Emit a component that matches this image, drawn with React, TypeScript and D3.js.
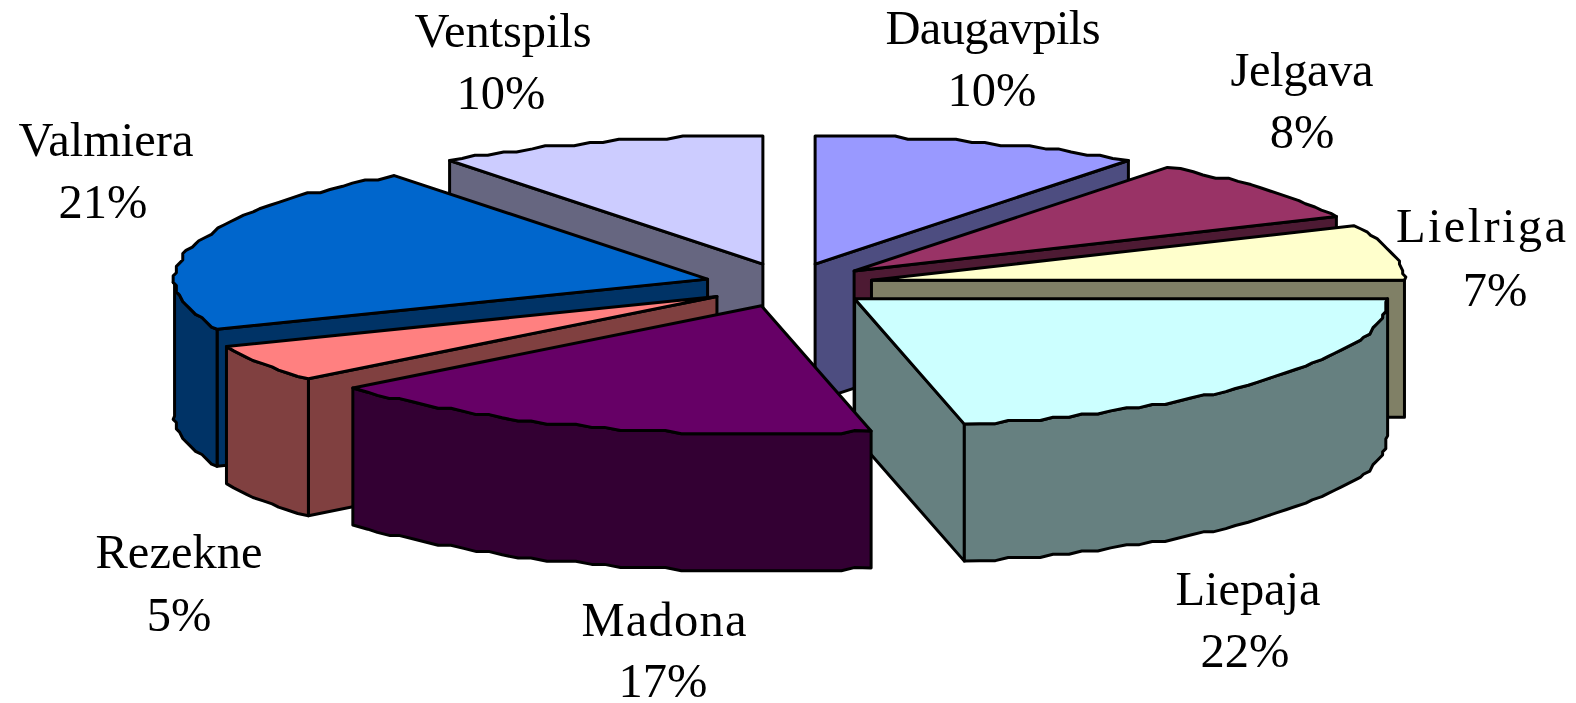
import React from "react";
import * as d3 from "d3";

const cities = ["Daugavpils", "Jelgava", "Lielriga", "Liepaja", "Madona", "Rezekne", "Valmiera", "Ventspils"];
const shares = [10, 8, 7, 21.7, 17.2, 4.7, 21.4, 10];
const fills = ["#9999FF", "#993366", "#FFFFCC", "#CCFFFF", "#660066", "#FF8080", "#0066CC", "#CCCCFF"];

// label layout, in the order of `cities`
const nameX = [993, 1302, 1481, 1248, 664, 179, 106, 503];
const nameY = [44, 86, 242, 605, 636, 568, 156, 47];
const nameW = [215, 143, 170, 145, 165, 167, 175, 177];
const pctX = [992, 1302, 1495, 1245, 663, 179, 103, 501];
const pctY = [106, 148, 306, 667, 697, 631, 218, 109];

const W = 1576, H = 703;
const CX = 789, CY = 285, RX = 533, RY = 128, DEPTH = 137, EX = 84.5, EY = 22;
const GRID = 3.2, STEP = (1.7 * Math.PI) / 180;
const FONT = 48.5;

const sx = d3.scaleLinear().domain([-1, 1]).range([-RX, RX]);
const sy = d3.scaleLinear().domain([-1, 1]).range([-RY, RY]);
const line = d3.line<[number, number]>();
const snap = (v: number) => Math.round(v / GRID) * GRID;

function half(c: string) {
  const k = d3.rgb(c);
  return d3.rgb(k.r / 2, k.g / 2, k.b / 2).formatHex();
}

function rimAngles(a0: number, a1: number) {
  const inner = d3.range(a0 + STEP, a1 - STEP / 2, STEP);
  return [a0, ...inner, a1];
}

export default function App() {
  const arcs = d3.pie<number>().sort(null).startAngle(0).endAngle(2 * Math.PI)(shares);
  const total = d3.sum(shares);
  const slices = arcs.map((a, i) => {
    const mid = (a.startAngle + a.endAngle) / 2;
    const ox = CX + EX * Math.sin(mid);
    const oy = CY - EY * Math.cos(mid);
    const pt = (t: number, dz = 0, jag = false): [number, number] => {
      const x = sx(Math.sin(t));
      const y = sy(-Math.cos(t));
      return [ox + (jag ? snap(x) : x), oy + (jag ? snap(y) : y) + dz];
    };
    const rim = (t0: number, t1: number, dz = 0) =>
      rimAngles(t0, t1).map((t, j, all) => pt(t, dz, j > 0 && j < all.length - 1));
    const apex: [number, number] = [ox, oy];
    const apexLow: [number, number] = [ox, oy + DEPTH];
    const faces: { d: string; fill: string }[] = [];
    const side = half(fills[i]);
    const radial = (t: number) => ({
      d: line([apex, pt(t), pt(t, DEPTH), apexLow])! + "Z",
      fill: side,
    });
    if (a.startAngle > Math.PI) faces.push(radial(a.startAngle));
    if (a.endAngle < Math.PI) faces.push(radial(a.endAngle));
    const w0 = Math.max(a.startAngle, Math.PI / 2);
    const w1 = Math.min(a.endAngle, (3 * Math.PI) / 2);
    if (w1 > w0) {
      faces.push({
        d: line([...rim(w0, w1), ...rim(w0, w1, DEPTH).reverse()])! + "Z",
        fill: side,
      });
    }
    faces.push({ d: line([apex, ...rim(a.startAngle, a.endAngle)])! + "Z", fill: fills[i] });
    return { i, mid, faces };
  });
  const order = [...slices].sort((p, q) => Math.abs(q.mid - Math.PI) - Math.abs(p.mid - Math.PI));

  return (
    <svg width={W} height={H} viewBox={`0 0 ${W} ${H}`} style={{ position: "absolute", left: 0, top: 0, background: "#fff" }}>
      {order.map((s) => (
        <g key={cities[s.i]}>
          {s.faces.map((f, j) => (
            <path key={j} d={f.d} fill={f.fill} stroke="#000" strokeWidth={3} strokeLinejoin="round" />
          ))}
        </g>
      ))}
      {cities.map((c, i) => (
        <g key={c} fontFamily="'Liberation Serif', serif" fontSize={FONT} fill="#000" textAnchor="middle">
          <text x={nameX[i]} y={nameY[i]} textLength={nameW[i]} lengthAdjust="spacing">{c}</text>
          <text x={pctX[i]} y={pctY[i]}>{d3.format(".0%")(shares[i] / total)}</text>
        </g>
      ))}
    </svg>
  );
}
